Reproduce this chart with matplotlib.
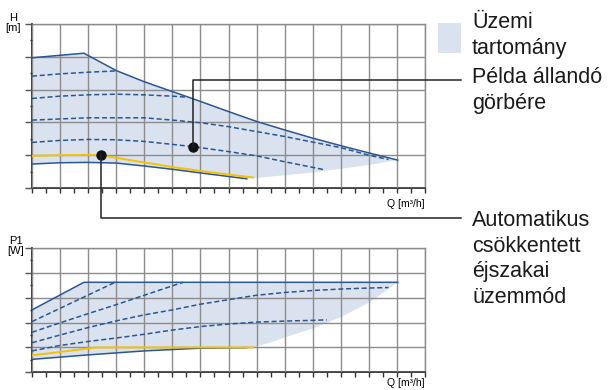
import numpy as np
import matplotlib.pyplot as plt
from matplotlib.lines import Line2D
from matplotlib.patches import Rectangle
from matplotlib.ticker import MultipleLocator

plt.rcParams['font.family'] = ['Liberation Sans', 'DejaVu Sans']

W, H = 608, 390  # kép mérete pixelben (dpi=100)

# ---- felső diagram: emelőmagasság H [m] (rácsegységben) ----
h_max_q = [0, 1.85, 3, 4, 5, 6, 7, 8, 9, 10, 11, 12, 13.03]
h_max = [3.97, 4.11, 3.58, 3.24, 2.94, 2.64, 2.33, 2.03, 1.77, 1.52, 1.29, 1.07, 0.85]
h_min_q = [0, 1, 2, 3, 4, 5, 6, 7, 7.65]
h_min = [0.73, 0.77, 0.78, 0.76, 0.67, 0.57, 0.46, 0.35, 0.28]
h_edge_q = [7.65, 7.9, 10, 12, 13.03]  # tartomány alsó széle jobb oldalon
h_edge = [0.28, 0.30, 0.47, 0.70, 0.85]
h_night_q = [0, 1, 2, 2.45, 3, 4, 5, 6, 7, 7.88]
h_night = [0.98, 1.0, 1.01, 1.0, 0.92, 0.78, 0.64, 0.52, 0.41, 0.32]

# állandó görbék (szaggatott)
h_c1_q = [0, 1, 2, 3]
h_c1 = [3.41, 3.48, 3.53, 3.57]
h_c2_q = [0, 1, 2, 3, 4, 5, 5.5]
h_c2 = [2.73, 2.80, 2.84, 2.86, 2.84, 2.80, 2.77]
h_c3_q = [0, 2, 4, 5, 6, 7, 8, 9, 10, 11, 12, 12.7]
h_c3 = [2.07, 2.14, 2.14, 2.07, 1.99, 1.87, 1.72, 1.57, 1.40, 1.23, 1.00, 0.87]
h_c4_q = [0, 1, 2, 3, 4, 5, 5.75, 7, 8, 9, 10, 10.45]
h_c4 = [1.39, 1.45, 1.48, 1.47, 1.42, 1.33, 1.26, 1.11, 0.98, 0.80, 0.63, 0.55]

# ---- alsó diagram: teljesítményfelvétel P1 [W] ----
p_max_q = [0, 1.85, 13.03]
p_max = [2.51, 3.62, 3.62]
p_min_q = [0, 2, 4, 6, 7.65, 7.88]
p_min = [0.52, 0.70, 0.86, 0.97, 0.99, 1.0]
p_edge_q = [7.88, 8.5, 9, 10, 11, 12, 13.03]
p_edge = [1.0, 1.2, 1.40, 1.76, 2.22, 2.80, 3.62]
p_night_q = [0, 2.3, 7.88]
p_night = [0.68, 1.0, 1.0]

p_c1_q = [0, 2.96]
p_c1 = [2.04, 3.62]
p_c2_q = [0, 1, 2, 3, 4, 5.38]
p_c2 = [1.61, 1.99, 2.36, 2.72, 3.10, 3.62]
p_c3_q = [0, 1, 2, 3, 4, 5, 6, 7, 8, 9, 10, 11, 12, 12.7]
p_c3 = [1.19, 1.50, 1.80, 2.07, 2.31, 2.51, 2.74, 2.92, 3.10, 3.21, 3.29, 3.35, 3.39, 3.41]
p_c4_q = [0, 1, 2, 3, 4, 5, 6, 7, 8, 9, 10, 10.5]
p_c4 = [0.86, 1.08, 1.24, 1.38, 1.53, 1.70, 1.84, 1.94, 2.02, 2.06, 2.09, 2.11]

# kiemelt pontok
const_pt = (5.75, 1.26)
night_pt = (2.45, 1.0)

FILL = '#dae2ef'
BLUE = '#2b5693'
YELLOW = '#f6c200'
GRID = '#8c8c8c'

fig = plt.figure(figsize=(W / 100, H / 100), dpi=100)


def make_axes(left, top, right, bottom):
    ax = fig.add_axes([left / W, 1 - bottom / H, (right - left) / W, (bottom - top) / H])
    ax.set_xlim(0, 14)
    ax.set_ylim(0, 5)
    ax.xaxis.set_major_locator(MultipleLocator(1))
    ax.xaxis.set_minor_locator(MultipleLocator(0.5))
    ax.yaxis.set_major_locator(MultipleLocator(1))
    ax.yaxis.set_minor_locator(MultipleLocator(0.5))
    ax.tick_params(axis='x', which='both', direction='out', length=3.6, width=1.0,
                   color='#333333', labelbottom=False)
    ax.tick_params(axis='y', which='major', direction='out', length=5, width=1.0,
                   color='#555555', labelleft=False)
    ax.tick_params(axis='y', which='minor', direction='out', length=1.8, width=1.0,
                   color='#333333')
    ax.grid(True, which='major', color=GRID, lw=1.0)
    ax.set_axisbelow(False)
    for s in ['top', 'right']:
        ax.spines[s].set_color(GRID)
        ax.spines[s].set_linewidth(1.0)
    for s in ['left', 'bottom']:
        ax.spines[s].set_color('#333333')
        ax.spines[s].set_linewidth(1.3)
    return ax


def dashed(ax, q, v):
    ax.plot(q, v, color=BLUE, lw=1.1, dashes=(3.3, 1.8), zorder=3)


ax1 = make_axes(32, 24, 425, 188)
ax2 = make_axes(32, 248, 425, 372.3)

# felső: tartomány
poly_q = np.concatenate([h_max_q, h_edge_q[::-1], h_min_q[::-1]])
poly_h = np.concatenate([h_max, h_edge[::-1], h_min[::-1]])
ax1.fill(poly_q, poly_h, color=FILL, lw=0, zorder=1)
ax1.plot(h_max_q, h_max, color=BLUE, lw=1.1, zorder=3)
ax1.plot(h_min_q, h_min, color=BLUE, lw=1.1, zorder=3)
for q, v in [(h_c1_q, h_c1), (h_c2_q, h_c2), (h_c3_q, h_c3), (h_c4_q, h_c4)]:
    dashed(ax1, q, v)
ax1.plot(h_night_q, h_night, color=YELLOW, lw=1.4, zorder=3.5)

# alsó: tartomány
poly_q = np.concatenate([p_max_q, p_edge_q[::-1], p_min_q[::-1]])
poly_p = np.concatenate([p_max, p_edge[::-1], p_min[::-1]])
ax2.fill(poly_q, poly_p, color=FILL, lw=0, zorder=1)
ax2.plot(p_max_q, p_max, color=BLUE, lw=1.1, zorder=3)
ax2.plot(p_min_q[:-1], p_min[:-1], color=BLUE, lw=1.1, zorder=3)
for q, v in [(p_c1_q, p_c1), (p_c2_q, p_c2), (p_c3_q, p_c3), (p_c4_q, p_c4)]:
    dashed(ax2, q, v)
ax2.plot(p_night_q, p_night, color=YELLOW, lw=1.4, zorder=3.5)


def callout(ax, pt, y_px, x_end_px=461):
    # vonal a ponttól függőlegesen, majd vízszintesen a felirathoz
    xd, yd = ax.transData.transform(pt)
    xs = [xd / W, xd / W, x_end_px / W]
    ys = [yd / H, 1 - y_px / H, 1 - y_px / H]
    fig.add_artist(Line2D(xs, ys, transform=fig.transFigure, color='#222222', lw=1.1))
    ax.plot(*pt, 'o', color='#111111', ms=6.5, zorder=6, clip_on=False)


callout(ax1, const_pt, 80)
callout(ax1, night_pt, 218)

# tengelyfeliratok
fig.text(13.5 / W, 1 - 23 / H, 'H\n[m]', ha='center', va='center', fontsize=8, linespacing=1.1)
fig.text(16 / W, 1 - 246 / H, 'P1\n[W]', ha='center', va='center', fontsize=8, linespacing=1.1)
fig.text(425 / W, 1 - 204 / H, 'Q [m³/h]', ha='right', va='center', fontsize=7.5)
fig.text(425 / W, 1 - 383.5 / H, 'Q [m³/h]', ha='right', va='center', fontsize=7.5)

# jelmagyarázat
fig.add_artist(Rectangle((438 / W, 1 - 53 / H), 23 / W, 30 / H, transform=fig.transFigure,
                         facecolor=FILL, edgecolor='none'))
legend_blocks = [
    (['Üzemi', 'tartomány'], 28),
    (['Példa állandó', 'görbére'], 83),
    (['Automatikus', 'csökkentett', 'éjszakai', 'üzemmód'], 226),
]
for lines, base in legend_blocks:
    for i, line in enumerate(lines):
        fig.text(472 / W, 1 - (base + i * 25.7) / H, line, ha='left', va='baseline',
                 fontsize=15.5, color='#1a1a1a')

fig.savefig('out.png', dpi=100)
